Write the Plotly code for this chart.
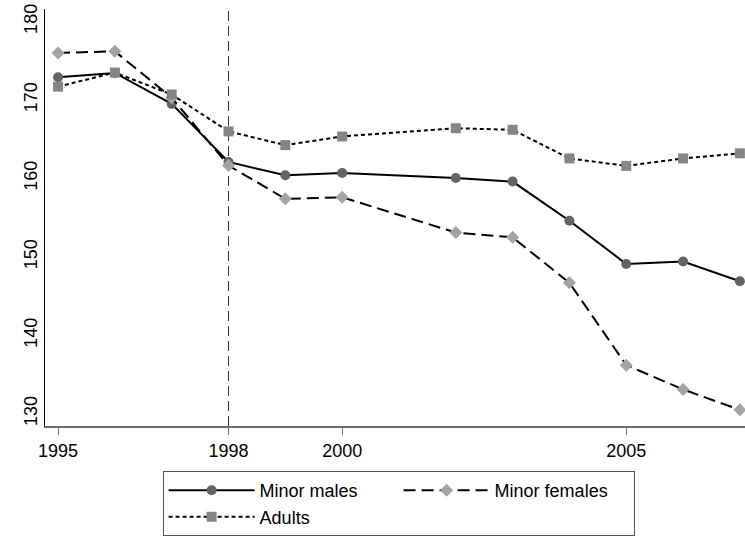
import plotly.graph_objects as go

# Yearly values (2001 not observed)
years = [1995, 1996, 1997, 1998, 1999, 2000, 2002, 2003, 2004, 2005, 2006, 2007]
minor_males = [172.9, 173.45, 169.5, 162.1, 160.4, 160.7, 160.05, 159.6, 154.6, 149.1, 149.4, 146.9]
minor_females = [176.0, 176.2, 170.3, 161.65, 157.4, 157.6, 153.1, 152.5, 146.7, 136.2, 133.1, 130.5]
adults = [171.7, 173.5, 170.7, 166.0, 164.25, 165.35, 166.4, 166.2, 162.55, 161.6, 162.55, 163.2]

x_ticks = [1995, 1998, 2000, 2005]
y_ticks = [130, 140, 150, 160, 170, 180]
y_range = [128.44, 181.6]
break_year = 1998

FONT = "Liberation Sans, Arial, sans-serif"

fig = go.Figure()
fig.add_trace(go.Scatter(
    x=years, y=minor_males, name="Minor males", mode="lines+markers",
    line=dict(color="black", width=2, dash="solid"),
    marker=dict(symbol="circle", size=10, color="#636363"),
    cliponaxis=False,
))
fig.add_trace(go.Scatter(
    x=years, y=minor_females, name="Minor females", mode="lines+markers",
    line=dict(color="black", width=2, dash="12px,6px"),
    marker=dict(symbol="diamond", size=10, color="#a3a3a3"),
    cliponaxis=False,
))
fig.add_trace(go.Scatter(
    x=years, y=adults, name="Adults", mode="lines+markers",
    line=dict(color="black", width=2, dash="4px,3px"),
    marker=dict(symbol="square", size=10, color="#858585"),
    cliponaxis=False,
))

fig.add_shape(
    type="line", xref="x", yref="paper", x0=break_year, x1=break_year, y0=0, y1=1,
    line=dict(color="#333333", width=1, dash="10px,5px"), layer="below",
)

fig.update_layout(
    width=745, height=536,
    margin=dict(l=45, r=0, t=9, b=110, autoexpand=False),
    paper_bgcolor="white", plot_bgcolor="white",
    font=dict(family=FONT, size=18, color="black"),
    showlegend=True,
    legend=dict(
        orientation="h", x=0.168, y=-0.108, xanchor="left", yanchor="top",
        bordercolor="#555555", borderwidth=1, bgcolor="white",
        entrywidth=134, entrywidthmode="pixels", itemwidth=86,
        font=dict(family=FONT, size=18, color="black"),
        traceorder="normal",
    ),
    xaxis=dict(
        range=[1994.77, 2007.09], tickvals=x_ticks, ticktext=[str(v) for v in x_ticks],
        showgrid=False, zeroline=False, showline=True, linecolor="#6e6e6e", linewidth=2,
        ticks="outside", ticklen=7, tickcolor="#6e6e6e", tickwidth=1,
        tickfont=dict(family=FONT, size=18),
    ),
    # labelled axis: vertical tick labels, no tick marks of its own
    yaxis=dict(
        range=y_range, tickvals=y_ticks, ticktext=[str(v) for v in y_ticks],
        showgrid=False, zeroline=False, showline=True, linecolor="black", linewidth=1,
        ticks="", tickangle=-90, tickfont=dict(family=FONT, size=18),
    ),
    # matching overlay axis that carries the tick marks
    yaxis2=dict(
        overlaying="y", side="left", range=y_range, tickvals=y_ticks,
        showticklabels=False, showgrid=False, zeroline=False, showline=False,
        ticks="outside", ticklen=6, tickcolor="black", tickwidth=1,
    ),
)

fig.write_html("out.html")
